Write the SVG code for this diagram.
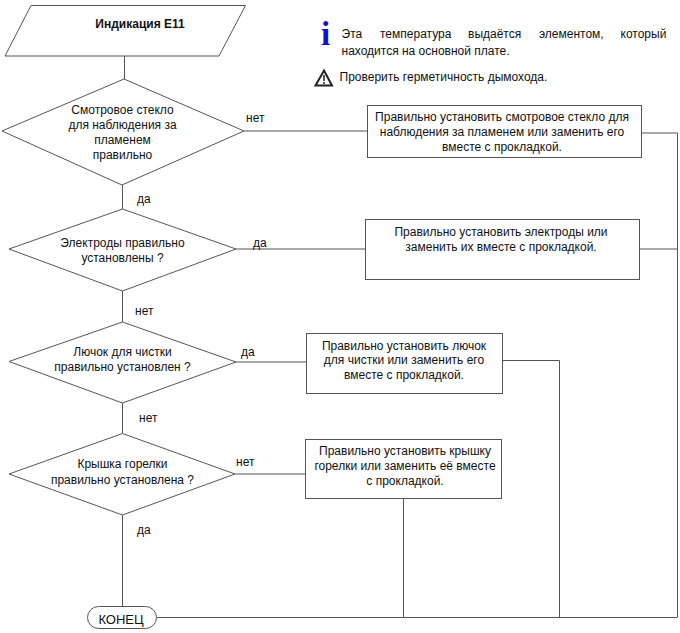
<svg xmlns="http://www.w3.org/2000/svg" width="680" height="633" viewBox="0 0 680 633">
<style>
text{font-family:"Liberation Sans",Arial,sans-serif;font-size:12px;fill:#111;text-anchor:middle}
.s{fill:#fff;stroke:#555;stroke-width:1}
.c{fill:none;stroke:#555;stroke-width:1}
.l{text-anchor:start}
</style>
<rect width="680" height="633" fill="#fff"/>
<g id="connectors">
<path class="c" d="M124.500 56V79M122.500 185V209M122.500 291V322M122.500 403V433M122.500 515V606"/>
<path class="c" d="M244 131H367M236 249H366M236 362H306M235 474H305"/>
<path class="c" d="M642 133H677.500V617M640 249H677.500M503 360.500H559.500V617M403.500 499V617M157 617.500H677.500"/>
</g>
<g id="start"><path class="s" d="M31 5.500H245.500L219 56H5Z"/><text x="140" y="28" style="font-weight:700">Индикация E11</text></g>
<g id="d1"><path class="s" d="M2 131L124 79L244 131L122 185Z"/><text x="122.500" y="114">Смотровое стекло</text><text x="122.500" y="129">для наблюдения за</text><text x="122.500" y="144">пламенем</text><text x="122.500" y="159">правильно</text></g>
<g id="d2"><path class="s" d="M9 249L122.500 209L236 249L122.500 291Z"/><text x="122.500" y="247">Электроды правильно</text><text x="122.500" y="262">установлены ?</text></g>
<g id="d3"><path class="s" d="M9 361.500L122.500 322L236 362L122.500 403Z"/><text x="122.500" y="356">Лючок для чистки</text><text x="122.500" y="371">правильно установлен ?</text></g>
<g id="d4"><path class="s" d="M9 474L122.500 433.500L235 474L122.500 515Z"/><text x="122.500" y="468">Крышка горелки</text><text x="122.500" y="484">правильно установлена ?</text></g>
<g id="end"><rect class="s" x="87.500" y="606.500" width="69" height="22" rx="11"/><text x="121" y="624" style="font-size:13px">КОНЕЦ</text></g>
<g id="b1"><rect class="s" x="367.500" y="105.500" width="274" height="52"/><text x="502" y="121">Правильно установить смотровое стекло для</text><text x="502" y="136">наблюдения за пламенем или заменить его</text><text x="502" y="151">вместе с прокладкой.</text></g>
<g id="b2"><rect class="s" x="365.500" y="219.500" width="274" height="60"/><text x="501" y="236">Правильно установить электроды или</text><text x="501" y="251">заменить их вместе с прокладкой.</text></g>
<g id="b3"><rect class="s" x="306.500" y="333.500" width="196" height="60"/><text x="404" y="350">Правильно установить лючок</text><text x="404" y="364">для чистки или заменить его</text><text x="404" y="379">вместе с прокладкой.</text></g>
<g id="b4"><rect class="s" x="305.500" y="439.500" width="196" height="59"/><text x="405" y="455">Правильно установить крышку</text><text x="405" y="470">горелки или заменить её вместе</text><text x="405" y="485">с прокладкой.</text></g>
<g id="labels">
<text class="l" x="246" y="122">нет</text><text class="l" x="137" y="203">да</text>
<text class="l" x="253" y="247">да</text><text class="l" x="135" y="315">нет</text>
<text class="l" x="241" y="356">да</text><text class="l" x="139" y="422">нет</text>
<text class="l" x="236" y="466">нет</text><text class="l" x="137" y="534">да</text>
</g>
<g id="notes">
<text x="325.500" y="45" style="font:700 33px 'Liberation Serif',serif;fill:#1010d0">i</text>
<text x="341.500" y="38" class="l">Эта</text><text x="380" y="38" class="l">температура</text><text x="468" y="38" class="l">выдаётся</text><text x="539" y="38" class="l">элементом,</text><text x="620.500" y="38" class="l">который</text>
<text x="341.500" y="55" class="l">находится на основной плате.</text>
<path d="M324 70.500L332 85.500H315.500Z" fill="#fff" stroke="#222" stroke-width="2"/>
<path d="M324 75V81M324 82V84" stroke="#222" stroke-width="1.500"/>
<text x="339.500" y="81" class="l">Проверить герметичность дымохода.</text>
</g>
</svg>
